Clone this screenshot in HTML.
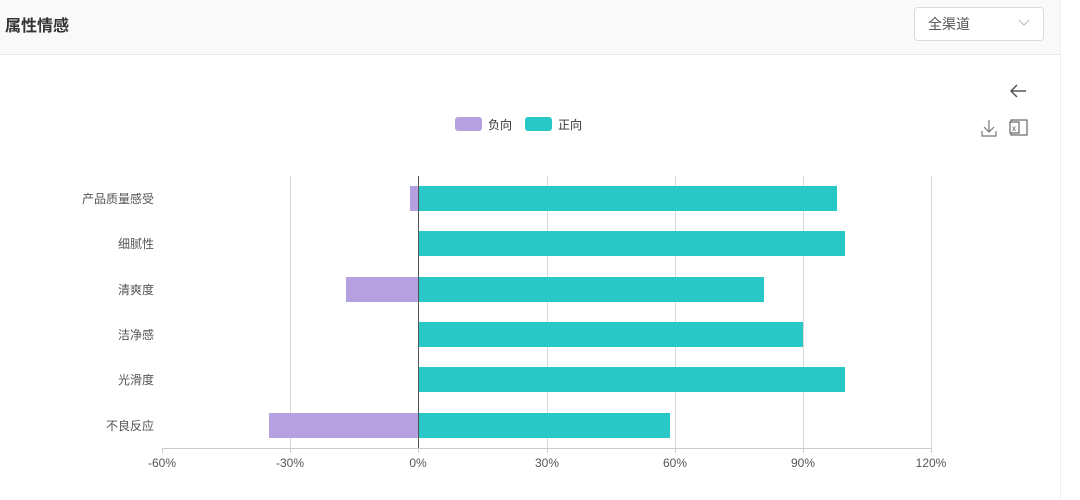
<!DOCTYPE html>
<html><head><meta charset="utf-8"><style>
html,body{margin:0;padding:0;width:1080px;height:500px;overflow:hidden;background:#fff;font-family:"Liberation Sans","Noto Sans CJK SC",sans-serif;}
</style></head><body>
<svg width="1080" height="500" xmlns="http://www.w3.org/2000/svg" style="position:absolute;left:0;top:0;font-family:'Liberation Sans','Noto Sans CJK SC',sans-serif">
<rect x="0" y="0" width="1060" height="54" fill="#f9f9f9"/>
<line x1="0" y1="54.5" x2="1060" y2="54.5" stroke="#e8e8e8"/>
<line x1="1060.5" y1="0" x2="1060.5" y2="500" stroke="#eeeeee"/>
<text x="5" y="31" font-size="16" font-weight="bold" fill="#333">属性情感</text>
<rect x="914.5" y="7.5" width="129" height="33" rx="3" fill="#fff" stroke="#dcdcdc"/>
<text x="928" y="29" font-size="14" fill="#555">全渠道</text>
<polyline points="1019,20 1024,25 1029,20" fill="none" stroke="#bbb" stroke-width="1"/>
<!-- icons -->
<path d="M1026 91 H1011 M1017 85 L1011 91 L1017 97" fill="none" stroke="#555" stroke-width="1.5"/>
<path d="M989 120 V132 M984 127 L989 132 L994 127 M982 131 V136 H996 V131" fill="none" stroke="#777" stroke-width="1.2"/>
<rect x="1011" y="120" width="16" height="15" fill="none" stroke="#666" stroke-width="1.2"/>
<rect x="1010" y="122" width="9" height="11" fill="#fff" stroke="#666" stroke-width="1.2"/>
<text x="1012" y="131" font-size="8" fill="#555">x</text>
<!-- legend -->
<rect x="455" y="117" width="27" height="14" rx="3" fill="#b5a1e0"/>
<text x="488" y="129" font-size="12" fill="#333">负向</text>
<rect x="525" y="117" width="27" height="14" rx="3" fill="#2ac7c7"/>
<text x="558" y="129" font-size="12" fill="#333">正向</text>
<!-- grid -->
<g stroke="#d9d9d9" stroke-width="1">
<line x1="290.5" y1="176" x2="290.5" y2="448"/>
<line x1="547.5" y1="176" x2="547.5" y2="448"/>
<line x1="675.5" y1="176" x2="675.5" y2="448"/>
<line x1="803.5" y1="176" x2="803.5" y2="448"/>
<line x1="931.5" y1="176" x2="931.5" y2="448"/>
<line x1="162" y1="448.5" x2="932" y2="448.5" stroke="#ccc"/>
</g>
<g stroke="#ccc"><line x1="162.5" y1="448" x2="162.5" y2="453"/><line x1="290.5" y1="448" x2="290.5" y2="453"/><line x1="418.5" y1="448" x2="418.5" y2="453"/><line x1="547.5" y1="448" x2="547.5" y2="453"/><line x1="675.5" y1="448" x2="675.5" y2="453"/><line x1="803.5" y1="448" x2="803.5" y2="453"/><line x1="931.5" y1="448" x2="931.5" y2="453"/></g>
<!-- bars -->
<g fill="#2ac7c7">
<rect x="418" y="186" width="419" height="25"/>
<rect x="418" y="231" width="427" height="25"/>
<rect x="418" y="277" width="346" height="25"/>
<rect x="418" y="322" width="385" height="25"/>
<rect x="418" y="367" width="427" height="25"/>
<rect x="418" y="413" width="252" height="25"/>
</g>
<g fill="#b5a1e0">
<rect x="410" y="186" width="8" height="25"/>
<rect x="346" y="277" width="72" height="25"/>
<rect x="269" y="413" width="149" height="25"/>
</g>
<line x1="418.5" y1="176" x2="418.5" y2="448" stroke="#555" stroke-width="1"/>
<g font-size="12" fill="#555" text-anchor="end">
<text x="154" y="203">产品质量感受</text>
<text x="154" y="248">细腻性</text>
<text x="154" y="294">清爽度</text>
<text x="154" y="339">洁净感</text>
<text x="154" y="384">光滑度</text>
<text x="154" y="430">不良反应</text>
</g>
<g font-size="12" fill="#555" text-anchor="middle">
<text x="162" y="467">-60%</text><text x="290" y="467">-30%</text><text x="418" y="467">0%</text><text x="547" y="467">30%</text><text x="675" y="467">60%</text><text x="803" y="467">90%</text><text x="931" y="467">120%</text>
</g>
</svg>
</body></html>
